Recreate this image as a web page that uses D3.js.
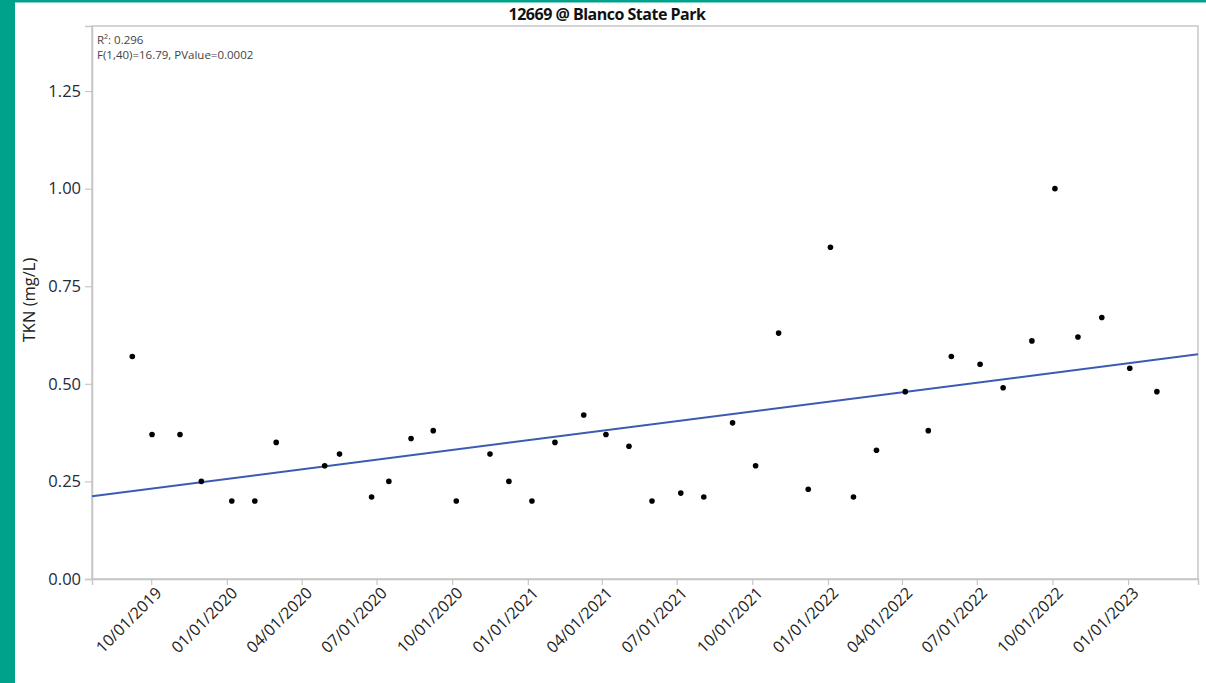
<!DOCTYPE html>
<html>
<head>
<meta charset="utf-8">
<script src="https://cdn.jsdelivr.net/npm/d3@7"></script>
<style>
  html, body { margin: 0; padding: 0; background: #ffffff; }
  svg { display: block; }
</style>
</head>
<body>
<svg id="chart" width="1206" height="683"></svg>
<script>
// Sample dates and TKN results (mg/L) for station 12669 @ Blanco State Park
const sampleDates = [
  "2019-09-08", "2019-10-02", "2019-11-05", "2019-12-01", "2020-01-07", "2020-02-04",
  "2020-03-01", "2020-04-29", "2020-05-17", "2020-06-25", "2020-07-16", "2020-08-12",
  "2020-09-08", "2020-10-06", "2020-11-16", "2020-12-09", "2021-01-06", "2021-02-03",
  "2021-03-10", "2021-04-06", "2021-05-04", "2021-06-01", "2021-07-06", "2021-08-03",
  "2021-09-07", "2021-10-05", "2021-11-02", "2021-12-08", "2022-01-04", "2022-02-01",
  "2022-03-01", "2022-04-05", "2022-05-03", "2022-05-31", "2022-07-05", "2022-08-02",
  "2022-09-06", "2022-10-04", "2022-11-01", "2022-11-30", "2023-01-03", "2023-02-05"
];
const tknValues = [
  0.57, 0.37, 0.37, 0.25, 0.20, 0.20,
  0.35, 0.29, 0.32, 0.21, 0.25, 0.36,
  0.38, 0.20, 0.32, 0.25, 0.20, 0.35,
  0.42, 0.37, 0.34, 0.20, 0.22, 0.21,
  0.40, 0.29, 0.63, 0.23, 0.85, 0.21,
  0.33, 0.48, 0.38, 0.57, 0.55, 0.49,
  0.61, 1.00, 0.62, 0.67, 0.54, 0.48
];

// Axis extents and tick labels
const xDomain = ["2019-07-21", "2023-03-27"];
const xTickLabels = [
  "10/01/2019", "01/01/2020", "04/01/2020", "07/01/2020", "10/01/2020", "01/01/2021",
  "04/01/2021", "07/01/2021", "10/01/2021", "01/01/2022", "04/01/2022", "07/01/2022",
  "10/01/2022", "01/01/2023"
];
const yDomain = [0, 1.4167];
const yTickValues = [0, 0.25, 0.5, 0.75, 1.0, 1.25];

// Fit summary text
const fitStats = ["R\u00B2: 0.296", "F(1,40)=16.79, PValue=0.0002"];
const chartTitle = "12669 @ Blanco State Park";
const yLabel = "TKN (mg/L)";

const parseIso = d3.utcParse("%Y-%m-%d");
const parseTick = d3.utcParse("%m/%d/%Y");
const data = sampleDates.map((d, i) => ({ date: parseIso(d), value: tknValues[i] }));

const svg = d3.select("#chart");
const W = 1206, H = 683;
const plot = { left: 92, right: 1198, top: 26, bottom: 579 };
const accent = "#00a28b";
const frameColor = "#c6c6c6";
const font = "'Open Sans', 'Noto Sans', sans-serif";

// Page decoration: accent bars on the left and top edges
svg.append("rect").attr("x", 0).attr("y", 0).attr("width", W).attr("height", H).attr("fill", "#ffffff");
svg.append("rect").attr("x", 0).attr("y", 0).attr("width", 15).attr("height", H).attr("fill", accent);
svg.append("rect").attr("x", 0).attr("y", 0).attr("width", W).attr("height", 2.5).attr("fill", accent);

const x = d3.scaleUtc()
  .domain(xDomain.map(parseIso))
  .range([plot.left, plot.right]);
const y = d3.scaleLinear()
  .domain(yDomain)
  .range([plot.bottom, plot.top]);

// Title
svg.append("text")
  .attr("x", 607).attr("y", 20)
  .attr("text-anchor", "middle")
  .attr("font-family", font)
  .attr("font-weight", 700)
  .attr("font-size", 16)
  .attr("letter-spacing", -0.5)
  .attr("fill", "#111")
  .text(chartTitle);

// Plot frame
svg.append("rect")
  .attr("x", plot.left).attr("y", plot.top)
  .attr("width", plot.right - plot.left).attr("height", plot.bottom - plot.top)
  .attr("fill", "none").attr("stroke", frameColor).attr("stroke-width", 1.5);

// Y axis
const yAxis = svg.append("g")
  .attr("transform", `translate(${plot.left},0)`)
  .call(d3.axisLeft(y).tickValues(yTickValues).tickFormat(d3.format(".2f")).tickSize(7).tickPadding(4));
yAxis.select(".domain").attr("stroke", frameColor).attr("stroke-width", 1.5);
yAxis.selectAll(".tick line").attr("stroke", frameColor).attr("stroke-width", 1.2);
yAxis.selectAll(".tick text")
  .attr("font-family", font).attr("font-size", 16.5).attr("fill", "#1f2a3c");

// X axis
const xAxis = svg.append("g")
  .attr("transform", `translate(0,${plot.bottom})`)
  .call(d3.axisBottom(x).tickValues(xTickLabels.map(parseTick)).tickFormat(d3.utcFormat("%m/%d/%Y")).tickSize(6));
xAxis.select(".domain").attr("stroke", frameColor).attr("stroke-width", 1.5);
xAxis.selectAll(".tick line").attr("stroke", frameColor).attr("stroke-width", 1.2);
xAxis.selectAll(".tick text")
  .attr("font-family", font).attr("font-size", 16).attr("fill", "#222")
  .attr("text-anchor", "end")
  .attr("dy", null).attr("y", null)
  .attr("transform", "translate(8,12) rotate(-45)")
  .attr("dominant-baseline", "middle");

// Y axis label
svg.append("text")
  .attr("transform", `translate(35,300) rotate(-90)`)
  .attr("text-anchor", "middle")
  .attr("font-family", font).attr("font-size", 16.5).attr("fill", "#222")
  .text(yLabel);

// Fit statistics
svg.selectAll("text.stat")
  .data(fitStats)
  .join("text")
  .attr("class", "stat")
  .attr("x", plot.left + 5)
  .attr("y", (d, i) => 44 + i * 15)
  .attr("font-family", font).attr("font-size", 11.5).attr("fill", "#444")
  .text(d => d);

// Least-squares line fitted on the samples (x in days)
const xs = data.map(d => +d.date / 864e5);
const ys = data.map(d => d.value);
const mx = d3.mean(xs), my = d3.mean(ys);
const slope = d3.sum(xs, (v, i) => (v - mx) * (ys[i] - my)) / d3.sum(xs, v => (v - mx) * (v - mx));
const intercept = my - slope * mx;
const [d0, d1] = x.domain();
const fitPts = [d0, d1].map(d => ({ date: d, value: intercept + slope * (+d / 864e5) }));

svg.append("clipPath").attr("id", "plotClip")
  .append("rect")
  .attr("x", plot.left).attr("y", plot.top)
  .attr("width", plot.right - plot.left).attr("height", plot.bottom - plot.top);

svg.append("path")
  .datum(fitPts)
  .attr("clip-path", "url(#plotClip)")
  .attr("fill", "none")
  .attr("stroke", "#3b5bb3")
  .attr("stroke-width", 2)
  .attr("d", d3.line().x(d => x(d.date)).y(d => y(d.value)));

// Sample points
svg.append("g")
  .selectAll("circle")
  .data(data)
  .join("circle")
  .attr("cx", d => x(d.date))
  .attr("cy", d => y(d.value))
  .attr("r", 2.8)
  .attr("fill", "#000");
</script>
</body>
</html>
